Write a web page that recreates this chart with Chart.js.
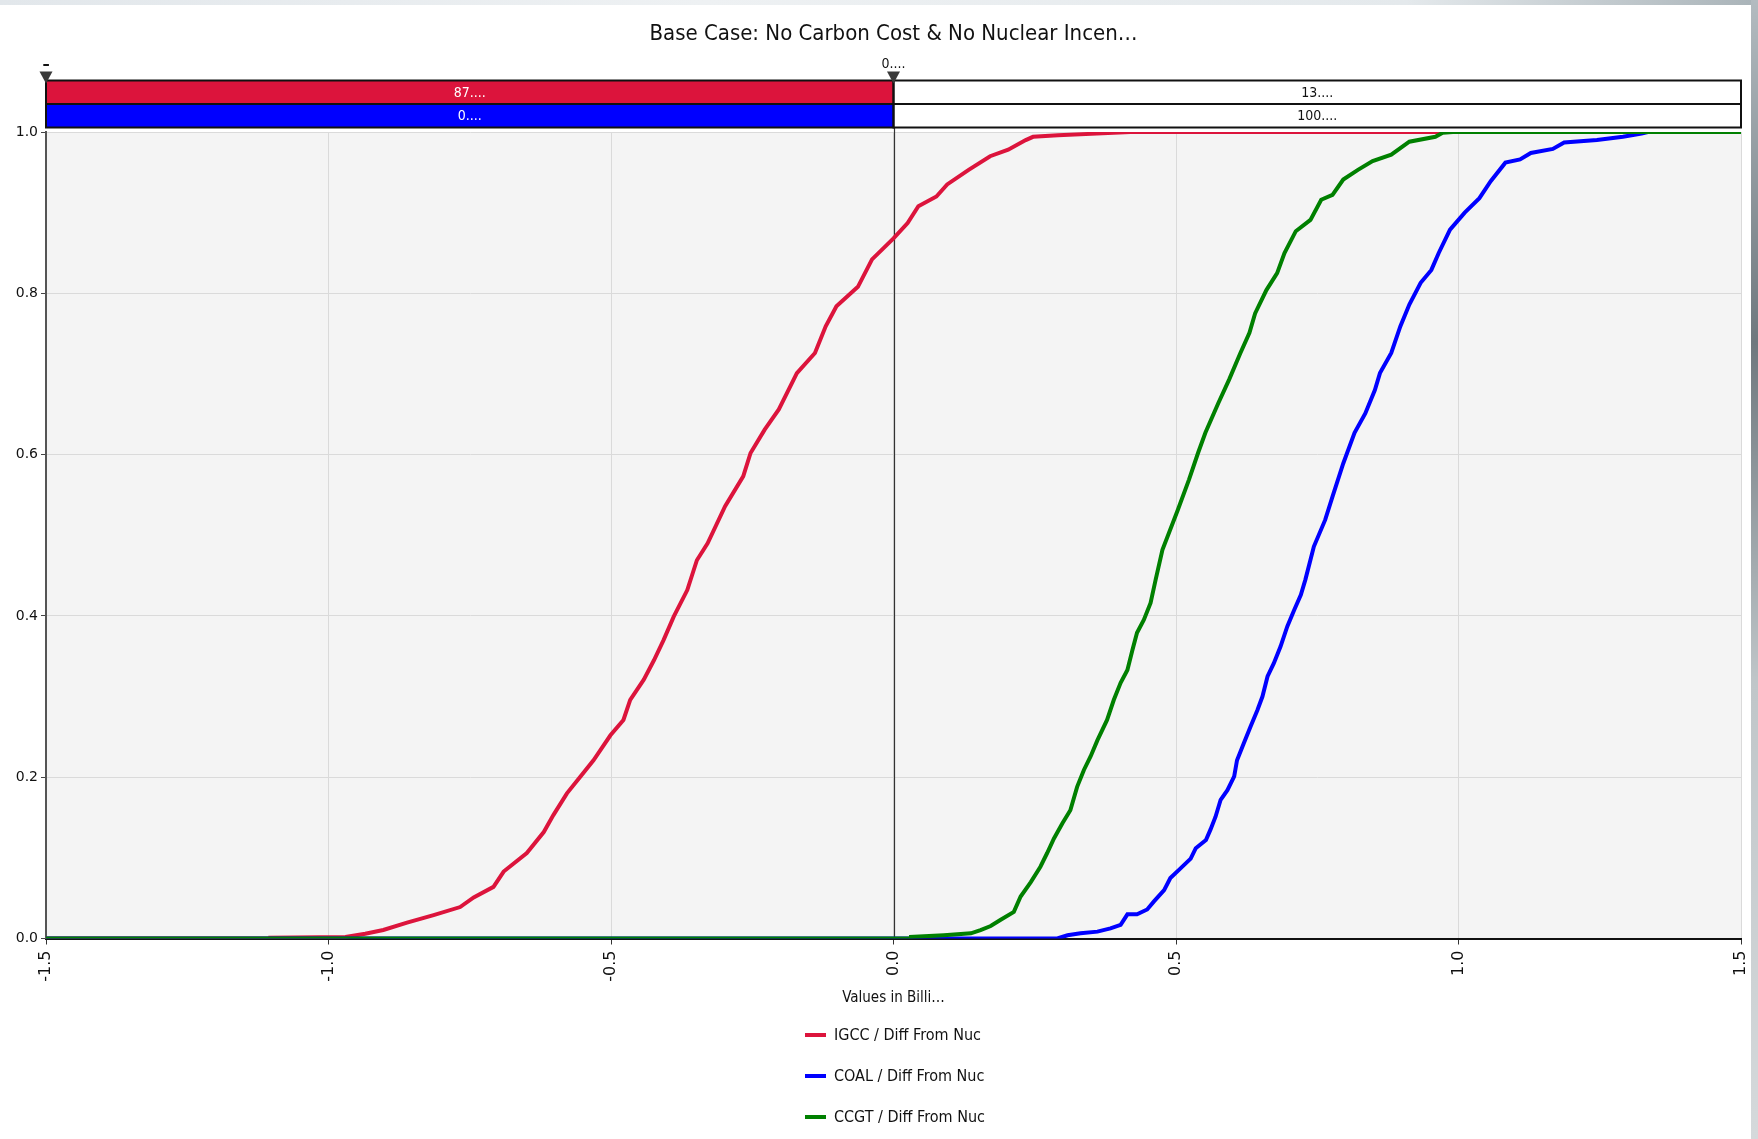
<!DOCTYPE html>
<html>
<head>
<meta charset="utf-8">
<title>Base Case: No Carbon Cost &amp; No Nuclear Incen…</title>
<script src="https://cdn.jsdelivr.net/npm/chart.js@4.4.1/dist/chart.umd.min.js"></script>
<style>
  html, body { margin: 0; padding: 0; background: #fff; overflow: hidden; }
  #wrap { position: relative; width: 1758px; height: 1139px; }
  #topStrip { position: absolute; left: 0; top: 0; width: 1758px; height: 5px;
    background: linear-gradient(to right, #e2e7eb, #eef1f3 40%, #e4e9ec 80%, #a9b3b8); }
  #rightStrip { position: absolute; top: 0; right: 0; width: 7px; height: 1139px;
    background: linear-gradient(to bottom, #b3bbc0, #6f787e 30%, #c0c6c9 60%, #d5d9db); }
  #legend { position: absolute; left: 805px; top: 1014px; margin: 0; padding: 0; list-style: none;
    font: 16px "DejaVu Sans Condensed", "DejaVu Sans", sans-serif; color: #111; }
  #legend li { height: 41px; display: flex; align-items: center; }
  #legend .swatch { width: 21px; height: 4px; margin-right: 8px; }
</style>
</head>
<body>
<div id="wrap">
  <canvas id="cdf-chart" width="1758" height="1139"></canvas>
  <div id="topStrip"></div>
  <div id="rightStrip"></div>
  <ul id="legend"></ul>
</div>
<script>
// cumulative probability curves (value in billions, cumulative share)
const seriesNames = ['IGCC / Diff From Nuc', 'COAL / Diff From Nuc', 'CCGT / Diff From Nuc'];
const seriesColors = ['#dc143c', '#0000ff', '#008000'];

const igccX = [-1.5, -1.103, -1.103, -0.97, -0.935, -0.903, -0.861, -0.814, -0.767, -0.743, -0.708, -0.69,
  -0.649, -0.619, -0.602, -0.578, -0.554, -0.531, -0.501, -0.478, -0.466, -0.442, -0.424, -0.407, -0.389,
  -0.365, -0.348, -0.329, -0.298, -0.266, -0.253, -0.228, -0.203, -0.171, -0.139, -0.12, -0.101, -0.063,
  -0.038, 0.0, 0.025, 0.044, 0.076, 0.095, 0.133, 0.171, 0.203, 0.234, 0.247, 0.291, 0.36, 0.419, 1.5];
const igccP = [0, 0, 0.001, 0.002, 0.006, 0.0105, 0.0196, 0.029, 0.039, 0.051, 0.064, 0.083,
  0.106, 0.132, 0.153, 0.18, 0.201, 0.221, 0.252, 0.271, 0.296, 0.321, 0.345, 0.37, 0.399,
  0.432, 0.469, 0.49, 0.536, 0.573, 0.602, 0.631, 0.656, 0.701, 0.726, 0.759, 0.784, 0.808,
  0.842, 0.868, 0.887, 0.908, 0.92, 0.935, 0.953, 0.97, 0.978, 0.99, 0.994, 0.996, 0.998, 1.0, 1.0];

const coalX = [-1.5, 0.29, 0.308, 0.331, 0.361, 0.384, 0.402, 0.414, 0.431, 0.449, 0.461, 0.479, 0.49,
  0.508, 0.526, 0.535, 0.553, 0.561, 0.57, 0.579, 0.591, 0.603, 0.608, 0.62, 0.632, 0.644, 0.653, 0.662,
  0.673, 0.685, 0.697, 0.709, 0.721, 0.729, 0.744, 0.764, 0.777, 0.796, 0.816, 0.835, 0.852, 0.861, 0.881,
  0.897, 0.913, 0.933, 0.952, 0.965, 0.985, 1.011, 1.037, 1.057, 1.083, 1.109, 1.128, 1.167, 1.187, 1.245,
  1.291, 1.324, 1.335, 1.5];
const coalP = [0, 0, 0.004, 0.0064, 0.0085, 0.0126, 0.017, 0.03, 0.03, 0.036, 0.046, 0.06, 0.075,
  0.087, 0.099, 0.112, 0.122, 0.135, 0.151, 0.172, 0.184, 0.201, 0.221, 0.242, 0.263, 0.283, 0.3, 0.325,
  0.341, 0.362, 0.387, 0.407, 0.426, 0.445, 0.486, 0.519, 0.548, 0.589, 0.627, 0.651, 0.68, 0.701, 0.726,
  0.759, 0.786, 0.813, 0.829, 0.85, 0.879, 0.9, 0.918, 0.939, 0.962, 0.966, 0.974, 0.979, 0.987, 0.99,
  0.994, 0.998, 1.0, 1.0];

const ccgtX = [-1.5, 0.031, 0.031, 0.089, 0.137, 0.154, 0.172, 0.189, 0.213, 0.225, 0.243, 0.26, 0.272,
  0.284, 0.299, 0.313, 0.325, 0.337, 0.349, 0.361, 0.378, 0.39, 0.402, 0.414, 0.423, 0.431, 0.443, 0.455,
  0.464, 0.476, 0.503, 0.523, 0.539, 0.552, 0.575, 0.594, 0.614, 0.63, 0.64, 0.66, 0.679, 0.692, 0.712,
  0.738, 0.757, 0.777, 0.796, 0.822, 0.848, 0.881, 0.913, 0.959, 0.972, 0.99, 1.5];
const ccgtP = [0, 0, 0.002, 0.004, 0.0064, 0.0105, 0.0155, 0.023, 0.033, 0.052, 0.07, 0.089, 0.106,
  0.124, 0.143, 0.159, 0.188, 0.209, 0.226, 0.246, 0.271, 0.296, 0.317, 0.333, 0.358, 0.379, 0.395, 0.416,
  0.445, 0.482, 0.531, 0.569, 0.602, 0.627, 0.664, 0.693, 0.726, 0.751, 0.775, 0.804, 0.825, 0.85, 0.877,
  0.891, 0.916, 0.922, 0.941, 0.953, 0.964, 0.972, 0.988, 0.994, 0.999, 1.0, 1.0];

const xTickValues = [-1.5, -1.0, -0.5, 0.0, 0.5, 1.0, 1.5];
const yTickValues = [0.0, 0.2, 0.4, 0.6, 0.8, 1.0];

// delimiter bar above the plot
const bandEdges = [-1.5, 0.0];
const bandEdgeLabels = ['–', '0....'];
const igccBand = ['87....', '13....'];
const coalBand = ['0....', '100....'];

const FONT = '"DejaVu Sans Condensed", "DejaVu Sans", sans-serif';

function toPoints(xs, ps) {
  return xs.map((x, i) => ({ x: x, y: ps[i] }));
}

const bandPlugin = {
  id: 'bandPlugin',
  beforeDraw(chart) {
    const { ctx, chartArea: a } = chart;
    ctx.save();
    ctx.fillStyle = '#f4f4f4';
    ctx.fillRect(a.left, a.top, a.right - a.left, a.bottom - a.top);
    ctx.restore();
  },
  beforeDatasetsDraw(chart) {
    const { ctx, chartArea: a, scales: { x } } = chart;
    const px = Math.round(x.getPixelForValue(bandEdges[1])) + 0.5;
    ctx.save();
    ctx.beginPath();
    ctx.moveTo(px, a.top - 58);
    ctx.lineTo(px, a.bottom);
    ctx.lineWidth = 1.2;
    ctx.strokeStyle = '#333';
    ctx.stroke();
    ctx.restore();
  },
  afterDraw(chart) {
    const { ctx, chartArea: a, scales: { x } } = chart;
    const x0 = x.getPixelForValue(x.min);
    const x1 = x.getPixelForValue(bandEdges[1]);
    const x2 = x.getPixelForValue(x.max);
    const rows = [
      { fill: seriesColors[0], labels: igccBand },
      { fill: seriesColors[1], labels: coalBand }
    ];
    const rowH = 23.5;
    const top0 = a.top - 51.5;
    ctx.save();
    ctx.font = '14px ' + FONT;
    ctx.textAlign = 'center';
    ctx.textBaseline = 'middle';
    rows.forEach((row, i) => {
      const y = top0 + i * rowH;
      ctx.fillStyle = row.fill;
      ctx.fillRect(x0, y, x1 - x0, rowH);
      ctx.fillStyle = '#fff';
      ctx.fillRect(x1, y, x2 - x1, rowH);
      ctx.lineWidth = 2;
      ctx.strokeStyle = '#111';
      ctx.strokeRect(x0, y, x1 - x0, rowH);
      ctx.strokeRect(x1, y, x2 - x1, rowH);
      ctx.fillStyle = '#fff';
      ctx.fillText(row.labels[0], (x0 + x1) / 2, y + rowH / 2 + 1);
      ctx.fillStyle = '#111';
      ctx.fillText(row.labels[1], (x1 + x2) / 2, y + rowH / 2 + 1);
    });
    // delimiter markers
    bandEdges.forEach((v, i) => {
      const px = x.getPixelForValue(v);
      ctx.beginPath();
      ctx.moveTo(px - 6.5, top0 - 9);
      ctx.lineTo(px + 6.5, top0 - 9);
      ctx.lineTo(px, top0 + 3);
      ctx.closePath();
      ctx.fillStyle = '#3a3a3a';
      ctx.fill();
      ctx.fillStyle = '#111';
      ctx.font = (i === 0 ? 'bold 16px ' : '14px ') + FONT;
      ctx.fillText(bandEdgeLabels[i], px, top0 - 16);
    });
    ctx.restore();
  }
};

const htmlLegendPlugin = {
  id: 'htmlLegend',
  afterUpdate(chart) {
    const list = document.getElementById('legend');
    list.innerHTML = '';
    chart.data.datasets.forEach(ds => {
      const li = document.createElement('li');
      const sw = document.createElement('span');
      sw.className = 'swatch';
      sw.style.background = ds.borderColor;
      const txt = document.createElement('span');
      txt.textContent = ds.label;
      li.appendChild(sw);
      li.appendChild(txt);
      list.appendChild(li);
    });
  }
};

const allX = [igccX, coalX, ccgtX];
const allP = [igccP, coalP, ccgtP];
const drawOrder = [2, 1, 0];

const datasets = seriesNames.map((name, i) => ({
  label: name,
  data: toPoints(allX[i], allP[i]),
  borderColor: seriesColors[i],
  backgroundColor: seriesColors[i],
  borderWidth: 4,
  pointRadius: 0,
  tension: 0,
  fill: false,
  order: drawOrder[i]
}));

new Chart(document.getElementById('cdf-chart'), {
  type: 'line',
  data: { datasets: datasets },
  options: {
    responsive: false,
    animation: false,
    layout: { padding: { left: 0, right: 17, top: 0, bottom: 0 } },
    plugins: {
      legend: { display: false },
      tooltip: { enabled: false },
      title: {
        display: true,
        fullSize: false,
        text: 'Base Case: No Carbon Cost & No Nuclear Incen…',
        color: '#111',
        font: { family: FONT, size: 22, weight: 'normal' },
        padding: { top: 21, bottom: 84.6 }
      }
    },
    scales: {
      x: {
        type: 'linear',
        min: -1.5,
        max: 1.5,
        afterBuildTicks: s => { s.ticks = xTickValues.map(v => ({ value: v })); },
        afterFit: s => { s.height = 200.5; s.paddingLeft = 0; s.paddingRight = 0; },
        ticks: {
          autoSkip: false,
          minRotation: 90,
          maxRotation: 90,
          padding: 6,
          color: '#111',
          font: { family: '"DejaVu Sans", sans-serif', size: 16 },
          callback: v => Number(v).toFixed(1)
        },
        grid: { color: '#dadada', lineWidth: 1, tickLength: 6, tickColor: '#333' },
        border: { color: '#111', width: 2 },
        title: {
          display: true,
          text: 'Values in Billi…',
          color: '#111',
          font: { family: FONT, size: 15 },
          padding: { top: 0, bottom: 132 }
        }
      },
      y: {
        type: 'linear',
        min: 0,
        max: 1,
        afterBuildTicks: s => { s.ticks = yTickValues.map(v => ({ value: v })); },
        afterFit: s => { s.width = 46; },
        ticks: {
          padding: 3,
          color: '#111',
          font: { family: '"DejaVu Sans", sans-serif', size: 14 },
          callback: v => Number(v).toFixed(1)
        },
        grid: { color: '#dadada', lineWidth: 1, tickLength: 5, tickColor: '#444' },
        border: { color: '#555', width: 2 }
      }
    }
  },
  plugins: [bandPlugin, htmlLegendPlugin]
});
</script>
</body>
</html>
